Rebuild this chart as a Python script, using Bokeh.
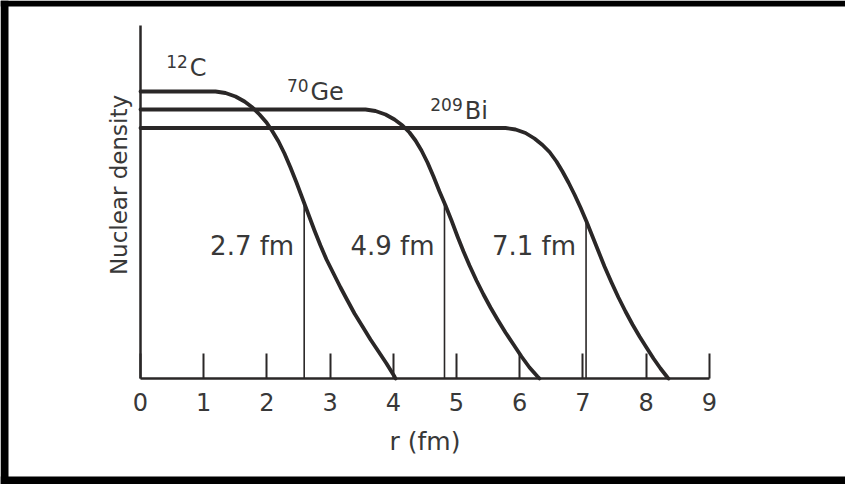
from bokeh.plotting import figure
from bokeh.models import LinearAxis, FixedTicker, BoxAnnotation, Range1d
from bokeh.core.properties import value
from bokeh.embed import file_html
from bokeh.resources import INLINE

# ---------------- data ----------------
r_ticks = [0, 1, 2, 3, 4, 5, 6, 7, 8, 9]

# 12C density profile (r in fm, density in arbitrary units)
c12_r = [0.000, 1.187, 1.345, 1.503, 1.646, 1.772, 1.883, 1.994, 2.089,
         2.184, 2.278, 2.373, 2.468, 2.563, 2.658, 2.753, 2.848, 2.943,
         3.054, 3.165, 3.275, 3.386, 3.513, 3.639, 3.766, 3.892, 4.019, 4.035]
c12_rho = [2.87, 2.87, 2.855, 2.82, 2.77, 2.71, 2.64, 2.56, 2.47,
           2.37, 2.25, 2.11, 1.96, 1.80, 1.64, 1.48, 1.33, 1.19,
           1.05, 0.91, 0.78, 0.65, 0.52, 0.39, 0.27, 0.15, 0.02, 0.00]

# 70Ge density profile
ge70_r = [0.000, 3.560, 3.718, 3.877, 4.019, 4.146, 4.256, 4.351, 4.446,
          4.541, 4.636, 4.731, 4.826, 4.921, 5.016, 5.111, 5.206, 5.316,
          5.427, 5.538, 5.649, 5.775, 5.902, 6.028, 6.155, 6.282, 6.313]
ge70_rho = [2.69, 2.69, 2.675, 2.64, 2.59, 2.53, 2.46, 2.38, 2.28,
            2.16, 2.02, 1.87, 1.73, 1.58, 1.42, 1.27, 1.13, 0.98,
            0.84, 0.71, 0.59, 0.46, 0.34, 0.22, 0.11, 0.02, 0.00]

# 209Bi density profile
bi209_r = [0.000, 5.775, 5.934, 6.092, 6.234, 6.361, 6.472, 6.582, 6.677,
           6.772, 6.867, 6.962, 7.057, 7.152, 7.247, 7.342, 7.453, 7.563,
           7.674, 7.785, 7.896, 8.006, 8.117, 8.228, 8.339, 8.354]
bi209_rho = [2.505, 2.505, 2.49, 2.455, 2.40, 2.335, 2.265, 2.17, 2.07,
             1.96, 1.84, 1.71, 1.57, 1.42, 1.27, 1.12, 0.96, 0.81,
             0.67, 0.54, 0.42, 0.31, 0.20, 0.10, 0.01, 0.00]

mass_numbers = ["12", "70", "209"]
symbols = ["C", "Ge", "Bi"]

# radius markers (foot on the r axis, top where they meet the curve)
radius_r = [2.59, 4.81, 7.05]
radius_top = [1.77, 1.75, 1.58]
radius_labels = ["2.7 fm", "4.9 fm", "7.1 fm"]

# ---------------- layout ----------------
W, H = 845, 484
X0_PX, PX_PER_FM = 140.0, 63.2      # canvas x of r = 0, pixels per fm
Y0_PX, PX_PER_UNIT = 378.0, 100.0   # canvas y of density = 0, pixels per unit
Y_AXIS_TOP = 3.53

x_range = Range1d(-X0_PX / PX_PER_FM, (W - X0_PX) / PX_PER_FM)
y_range = Range1d(-(H - Y0_PX) / PX_PER_UNIT, Y0_PX / PX_PER_UNIT)

# isotope label anchors (left edge / baseline of the chemical symbol)
sym_x = [0.78, 2.69, 5.13]
sym_y = [3.03, 2.79, 2.60]
radius_label_y = 1.23

FONT = "DejaVu Sans"
INK = "#2a2727"
TXT = "#383838"

p = figure(width=W, height=H, x_range=x_range, y_range=y_range,
           output_backend="svg", toolbar_location=None,
           x_axis_type=None, y_axis_type=None, min_border=0,
           background_fill_color="white", border_fill_color="white",
           outline_line_color=None)

xaxis = LinearAxis(fixed_location=0, bounds=(0, 9),
                   ticker=FixedTicker(ticks=r_ticks),
                   major_tick_in=25, major_tick_out=0,
                   minor_tick_in=0, minor_tick_out=0,
                   axis_line_width=2.5, axis_line_color=INK,
                   major_tick_line_width=2, major_tick_line_color=INK,
                   major_label_text_font=FONT,
                   major_label_text_font_size="24px",
                   major_label_text_color=TXT,
                   major_label_standoff=14,
                   axis_label="r (fm)",
                   axis_label_text_font=FONT,
                   axis_label_text_font_style="normal",
                   axis_label_text_font_size="25px",
                   axis_label_text_color=TXT,
                   axis_label_standoff=13)
p.add_layout(xaxis, "below")

yaxis = LinearAxis(fixed_location=0, bounds=(0, Y_AXIS_TOP),
                   ticker=FixedTicker(ticks=[]),
                   major_tick_in=0, major_tick_out=0,
                   minor_tick_in=0, minor_tick_out=0,
                   axis_line_width=2.5, axis_line_color=INK,
                   major_label_text_font_size="0px")
p.add_layout(yaxis, "left")

# the axis title sits a little above the middle of the axis line
ylabel_axis = LinearAxis(fixed_location=0, bounds=(0.34, Y_AXIS_TOP),
                         ticker=FixedTicker(ticks=[]),
                         axis_line_color=None,
                         major_tick_in=0, major_tick_out=0,
                         minor_tick_in=0, minor_tick_out=0,
                         major_label_text_font_size="0px",
                         axis_label="Nuclear density",
                         axis_label_text_font=FONT,
                         axis_label_text_font_style="normal",
                         axis_label_text_font_size="23px",
                         axis_label_text_color=TXT,
                         axis_label_standoff=9)
p.add_layout(ylabel_axis, "left")

for rr, rho in [(c12_r, c12_rho), (ge70_r, ge70_rho), (bi209_r, bi209_rho)]:
    p.line(rr, rho, line_width=3.8, line_color=INK,
           line_join="round", line_cap="round")

p.segment(x0=radius_r, y0=[0] * len(radius_r), x1=radius_r, y1=radius_top,
          line_width=1.6, line_color=INK)

p.text(x=radius_r, y=[radius_label_y] * len(radius_r), text=radius_labels,
       text_align="right", text_baseline="alphabetic",
       x_offset=-10, y_offset=-10,
       text_font=value(FONT), text_font_size="26px", text_color=TXT)

p.text(x=sym_x, y=sym_y, text=symbols, text_align="left",
       text_baseline="alphabetic", y_offset=-8, text_font=value(FONT),
       text_font_size="24px", text_color=TXT)
p.text(x=sym_x, y=sym_y, text=mass_numbers, text_align="right",
       text_baseline="alphabetic", x_offset=-2, y_offset=-14,
       text_font=value(FONT), text_font_size="17px", text_color=TXT)

# black picture frame (left, top, bottom)
px = 1.0 / PX_PER_FM
py = 1.0 / PX_PER_UNIT
xs, xe = x_range.start, x_range.end
ys, ye = y_range.start, y_range.end
for l, r, b, t in [(xs, xs + 8 * px, ys, ye),
                   (xs, xe, ye - 6 * py, ye),
                   (xs, xe, ys, ys + 8 * py)]:
    p.add_layout(BoxAnnotation(left=l, right=r, bottom=b, top=t,
                               fill_color="black", fill_alpha=1.0,
                               line_color=None))

open("out.html", "w").write(file_html(p, INLINE))
